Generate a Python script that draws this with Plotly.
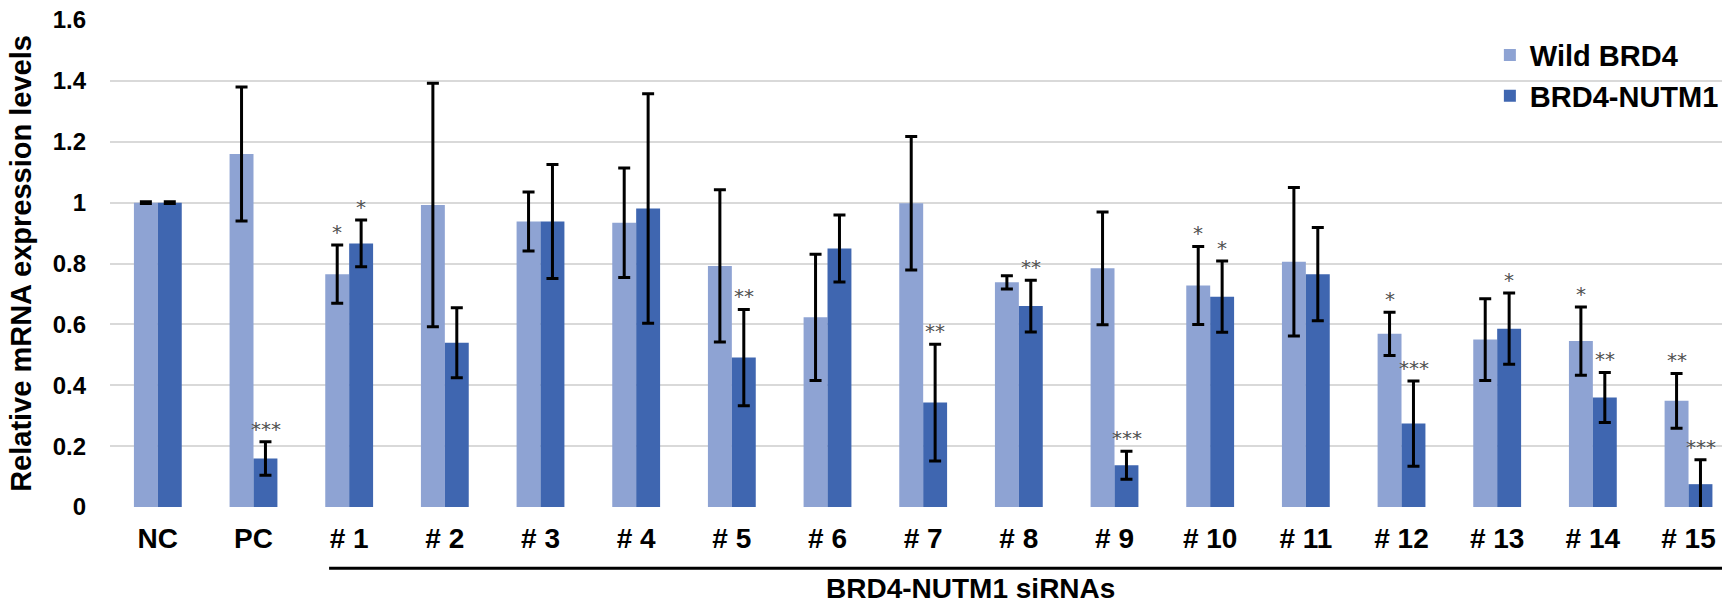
import plotly.graph_objects as go

categories = ["NC", "PC", "# 1", "# 2", "# 3", "# 4", "# 5", "# 6", "# 7", "# 8",
              "# 9", "# 10", "# 11", "# 12", "# 13", "# 14", "# 15"]
wild = [1.0, 1.16, 0.765, 0.992, 0.938, 0.934, 0.792, 0.623, 0.998, 0.738,
        0.784, 0.728, 0.806, 0.569, 0.55, 0.545, 0.349]
wild_err = [0.003, 0.22, 0.096, 0.40, 0.097, 0.18, 0.25, 0.207, 0.219, 0.022,
            0.185, 0.128, 0.244, 0.071, 0.134, 0.112, 0.09]
nutm = [1.0, 0.159, 0.866, 0.54, 0.938, 0.981, 0.491, 0.849, 0.343, 0.66,
        0.137, 0.691, 0.765, 0.274, 0.586, 0.36, 0.075]
nutm_err = [0.003, 0.055, 0.077, 0.115, 0.187, 0.377, 0.158, 0.11, 0.192, 0.085,
            0.046, 0.117, 0.153, 0.14, 0.117, 0.082, 0.08]
wild_sig = ["", "", "*", "", "", "", "", "", "", "", "", "*", "", "*", "", "*", "**"]
nutm_sig = ["", "***", "*", "", "", "", "**", "", "**", "**", "***", "*", "", "***", "*", "**", "***"]
tick_vals = [0, 0.2, 0.4, 0.6, 0.8, 1.0, 1.2, 1.4, 1.6]
tick_text = ["0", "0.2", "0.4", "0.6", "0.8", "1", "1.2", "1.4", "1.6"]

FONT = "Liberation Sans, Arial, sans-serif"
C_WILD = "#8EA3D3"
C_NUTM = "#3F66B0"

fig = go.Figure()
fig.add_trace(go.Bar(
    x=categories, y=wild, name="Wild BRD4", marker=dict(color=C_WILD, line=dict(width=0)),
    error_y=dict(type="data", array=wild_err, visible=True, color="black", thickness=3, width=6),
))
fig.add_trace(go.Bar(
    x=categories, y=nutm, name="BRD4-NUTM1", marker=dict(color=C_NUTM, line=dict(width=0)),
    error_y=dict(type="data", array=nutm_err, visible=True, color="black", thickness=3, width=6),
))

annotations = []
for i, c in enumerate(categories):
    for sig, val, err, shift in ((wild_sig[i], wild[i], wild_err[i], -12),
                                 (nutm_sig[i], nutm[i], nutm_err[i], 12)):
        if sig:
            annotations.append(dict(
                x=c, y=val + err, xref="x", yref="y", text=sig, showarrow=False,
                xshift=shift, yshift=-1, yanchor="bottom",
                font=dict(family="DejaVu Sans", size=20, color="#505050"),
            ))

annotations.append(dict(
    x=0.5336, y=-0.203, xref="paper", yref="paper", text="<b>BRD4-NUTM1 siRNAs</b>",
    showarrow=False, xanchor="center", yanchor="bottom",
    font=dict(family=FONT, size=28, color="black"),
))

fig.update_layout(
    width=1722, height=608,
    margin=dict(l=110, r=0, t=20, b=101, autoexpand=False),
    paper_bgcolor="white", plot_bgcolor="white",
    barmode="group", bargap=0.5, bargroupgap=0,
    font=dict(family=FONT, color="black"),
    showlegend=True,
    legend=dict(x=0.856, y=0.98, xanchor="left", yanchor="top",
                bgcolor="rgba(0,0,0,0)", font=dict(family=FONT, size=29, color="black", weight="bold"),
                tracegroupgap=0),
    annotations=annotations,
    shapes=[dict(type="line", xref="x", yref="paper", x0=1.79, x1=16.6, y0=-0.126, y1=-0.126,
                 line=dict(color="black", width=3))],
)
fig.update_xaxes(
    range=[-0.5, 16.35], showgrid=False, showline=False, zeroline=False, automargin=False,
    ticks="", tickfont=dict(family=FONT, size=28, color="black", weight="bold"),
    ticklabelstandoff=12,
)
fig.update_yaxes(
    range=[0, 1.6], tickvals=tick_vals, ticktext=tick_text, automargin=False,
    showgrid=True, gridcolor="#d9d9d9", gridwidth=1.5, zeroline=False, showline=False,
    ticks="", tickfont=dict(family=FONT, size=24, color="black", weight="bold"),
    ticklabelstandoff=23,
    title=dict(text="<b>Relative mRNA expression levels</b>", font=dict(family=FONT, size=29, color="black"), standoff=12),
)

fig.write_html("out.html", config={"displayModeBar": False},
               post_script="document.body.style.margin='0';document.body.style.overflow='hidden';")
